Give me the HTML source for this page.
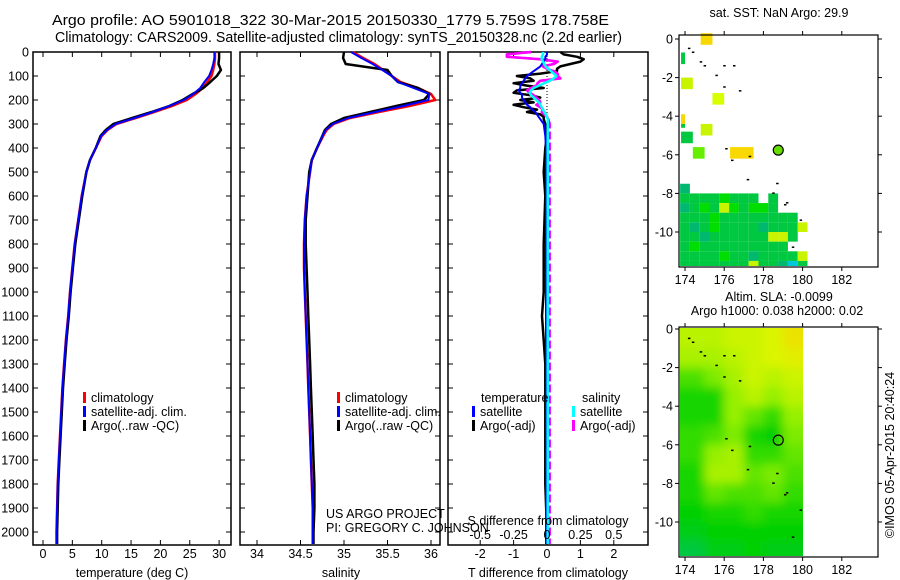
<!DOCTYPE html>
<html><head><meta charset="utf-8">
<style>
body{margin:0;background:#fff;}
svg{display:block;font-family:"Liberation Sans",sans-serif;}
text{fill:#000;}
</style></head>
<body>
<svg id="fig" width="900" height="580" viewBox="0 0 900 580" xmlns="http://www.w3.org/2000/svg">
<defs>
<filter id="smooth" x="-10%" y="-10%" width="120%" height="120%"><feGaussianBlur stdDeviation="5"/></filter>
<clipPath id="slaClip"><rect x="680" y="328" width="123" height="228"/></clipPath>
</defs>
<rect width="900" height="580" fill="#fff"/>
<text x="52" y="25" font-size="14.5" textLength="557" lengthAdjust="spacingAndGlyphs">Argo profile: AO 5901018_322 30-Mar-2015 20150330_1779 5.759S 178.758E</text>
<text x="55" y="42" font-size="14.5" textLength="567" lengthAdjust="spacingAndGlyphs">Climatology: CARS2009. Satellite-adjusted climatology: synTS_20150328.nc (2.2d earlier)</text>
<g id="plots"></g>
</svg>
<script>
// ---- profile data ----
const depths=[0,25,50,75,100,125,150,175,200,225,250,275,300,325,350,400,450,500,600,700,800,900,1000,1100,1200,1300,1400,1500,1600,1700,1800,1900,2000,2050];
const tClim=[29.3,29.3,29.2,29.0,28.7,28.0,27.2,26.0,24.5,22.0,19.0,15.8,12.5,11.0,10.0,9.0,8.0,7.4,6.6,6.0,5.4,5.0,4.6,4.3,3.9,3.6,3.3,3.1,2.9,2.7,2.5,2.4,2.3,2.3];
const tSat=[29.2,29.2,29.0,28.7,28.3,27.5,26.8,25.6,24.0,21.5,18.7,15.6,12.4,10.9,9.9,9.0,8.0,7.4,6.6,6.0,5.4,5.0,4.6,4.3,3.9,3.6,3.3,3.1,2.9,2.7,2.5,2.4,2.3,2.3];
const tArgo=[30.0,30.0,29.9,30.3,29.6,28.5,27.3,25.5,23.8,21.5,18.5,15.2,12.0,10.7,9.8,9.0,8.0,7.4,6.7,6.1,5.5,5.1,4.7,4.4,4.0,3.7,3.4,3.2,3.0,2.8,2.6,2.5,2.4,2.4];
const sClim=[35.10,35.22,35.35,35.45,35.55,35.65,35.85,36.00,36.05,35.75,35.40,35.07,34.88,34.80,34.76,34.69,34.63,34.61,34.57,34.55,34.54,34.54,34.55,34.56,34.57,34.58,34.59,34.60,34.61,34.62,34.63,34.64,34.64,34.64];
const sSat=[35.08,35.20,35.33,35.44,35.55,35.62,35.80,35.98,35.97,35.68,35.36,35.05,34.87,34.79,34.75,34.69,34.63,34.61,34.57,34.55,34.54,34.54,34.55,34.56,34.57,34.58,34.59,34.60,34.61,34.62,34.63,34.64,34.64,34.64];
const sArgo=[35.00,34.99,35.02,35.50,35.55,35.62,35.85,35.98,35.92,35.60,35.30,35.00,34.85,34.78,34.75,34.69,34.63,34.60,34.58,34.56,34.56,34.57,34.58,34.59,34.60,34.61,34.62,34.63,34.64,34.65,34.66,34.66,34.65,34.65];
// ---- difference data ----
const diffDepth=[0,10,20,30,40,50,60,70,80,90,100,110,120,130,140,150,160,170,180,190,200,210,220,230,240,250,260,270,280,300,350,400,500,600,800,1000,1100,1200,1300,1500,1800,2000,2050];
const dTargo=[0.4,0.5,0.9,1.1,1.0,0.7,0.4,0.3,0.3,-0.2,-0.9,-0.5,-0.4,-1.0,-0.6,-0.1,-0.9,-1.0,-0.5,-0.2,-0.8,-0.4,-1.0,-0.7,-0.3,-0.6,-0.2,-0.1,-0.1,-0.05,0,-0.05,-0.1,-0.05,-0.1,-0.1,-0.15,-0.1,-0.05,-0.05,-0.05,0,0];
const dTsat=[0,0,-0.05,-0.05,-0.1,-0.15,-0.2,-0.3,-0.4,-0.5,-0.6,-0.65,-0.7,-0.75,-0.8,-0.8,-0.85,-0.8,-0.75,-0.75,-0.7,-0.65,-0.6,-0.5,-0.45,-0.35,-0.3,-0.25,-0.2,-0.1,-0.05,-0.03,-0.03,-0.03,-0.03,-0.03,-0.03,-0.03,-0.03,-0.03,-0.03,-0.03,-0.03];
const dSargo=[-0.12,-0.3,-0.3,-0.05,0.08,0.05,-0.03,0.0,0.05,0.08,0.08,0.1,-0.05,-0.07,-0.08,-0.12,-0.15,-0.13,-0.1,-0.08,-0.06,-0.05,-0.08,-0.05,-0.03,-0.04,-0.02,0,0.01,0.02,0.02,0.02,0.02,0.02,0.02,0.02,0.02,0.02,0.02,0.02,0.02,0.02,0.02];
const dSsat=[-0.03,-0.03,-0.04,-0.04,-0.03,-0.02,-0.01,0.01,0.03,0.05,0.07,0.05,0.02,-0.02,-0.06,-0.1,-0.12,-0.13,-0.12,-0.1,-0.08,-0.06,-0.05,-0.04,-0.03,-0.02,-0.01,0,0.005,0.005,0.005,0.005,0.005,0.005,0.005,0.005,0.005,0.005,0.005,0.005,0.005,0.005,0.005];
const depthTicks=[0,100,200,300,400,500,600,700,800,900,1000,1100,1200,1300,1400,1500,1600,1700,1800,1900,2000];
const tTicks=[0,5,10,15,20,25,30];
const sTicks=[34,34.5,35,35.5,36];
const dTTicks=[-2,-1,0,1,2];
const dSTicks=[-0.5,-0.25,0,0.25,0.5];
// ---- SLA map grid (1 deg cells, rows from 0 to -12 lat, cols 174..180 lon), 0=low 1=high ----
const slaRows=[
[0.7,0.7,0.75,0.75,0.8,0.95],
[0.65,0.65,0.7,0.75,0.8,0.85],
[0.45,0.55,0.65,0.75,0.7,0.75],
[0.35,0.35,0.6,0.7,0.6,0.7],
[0.35,0.35,0.6,0.5,0.4,0.6],
[0.4,0.45,0.55,0.35,0.3,0.55],
[0.4,0.6,0.65,0.4,0.4,0.5],
[0.35,0.65,0.65,0.5,0.55,0.45],
[0.35,0.5,0.45,0.45,0.5,0.4],
[0.3,0.35,0.35,0.4,0.35,0.35],
[0.25,0.3,0.3,0.3,0.3,0.3],
[0.15,0.25,0.25,0.3,0.25,0.25]];
// ---- SST map ----
const sstCells=[[174.8,0.3,0.6,0.6,'o'],[173.8,-0.7,0.2,0.6,'g'],[173.8,-2.0,0.6,0.6,'y'],[175.4,-2.8,0.6,0.6,'l'],[174.8,-4.4,0.6,0.6,'y'],[173.8,-3.9,0.2,0.5,'o'],[173.8,-4.4,0.2,0.2,'g'],[173.8,-4.8,0.6,0.6,'g'],[174.4,-5.6,0.6,0.6,'Y'],[176.3,-5.6,1.2,0.6,'o']];
const sstRowLats=[-7.5,-8.0,-8.5,-9.0,-9.5,-10.0,-10.5,-11.0,-11.5];
const sstRows=["t............","ggggGggg.g...","tgGgyGgGGg...","gggGgggggggg.","gtgGggggtgggy","ggtggggggyyg.","gGggggggggg..","ggggGggtggggy","gggggggyggtcg"];
const coastPts=[[174.2,-0.5],[174.4,-0.7],[174.8,-1.2],[175.0,-1.4],[175.6,-1.9],[176.0,-1.4],[176.5,-1.4],[176.0,-2.5],[176.8,-2.7],[176.1,-5.7],[177.3,-6.1],[176.4,-6.3],[177.2,-7.3],[178.7,-7.5],[178.5,-8.0],[179.2,-8.5],[179.1,-8.6],[179.9,-9.4],[179.5,-10.8]];
const argoLon=178.758, argoLat=-5.759;

const NS="http://www.w3.org/2000/svg";
const root=document.getElementById('plots');
function el(tag,attrs,parent){const e=document.createElementNS(NS,tag);for(const k in attrs)e.setAttribute(k,attrs[k]);(parent||root).appendChild(e);return e;}
function txt(x,y,s,size,anchor,parent){const t=el('text',{x:x,y:y,'font-size':size,'text-anchor':anchor||'start'},parent);t.textContent=s;return t;}

const pTop=52,pBot=545;
const yD=d=>52+d*0.24;
function linePath(xs,ds,xf){return xs.map((v,i)=>(i?'L':'M')+xf(v).toFixed(1)+' '+yD(ds[i]).toFixed(1)).join(' ');}

function panel(name,x0,x1){
  const g=el('g',{});
  
  
  const r=el('rect',{x:x0,y:pTop,width:x1-x0,height:pBot-pTop,fill:'none',stroke:'#000','stroke-width':1.5},g);
  
  
  return g;
}
function xTicks(g,ticks,xf,labY){
  ticks.forEach(t=>{const x=xf(t);
    el('line',{x1:x,x2:x,y1:pTop,y2:pTop+5,stroke:'#000'},g);
    el('line',{x1:x,x2:x,y1:pBot,y2:pBot-5,stroke:'#000'},g);
    if(labY){const l=txt(x,labY,String(t),12.5,'middle',g);
      
      }
  });
}
function yTicks(g,x0,x1,labels){
  depthTicks.forEach(d=>{const y=yD(d);
    el('line',{x1:x0,x2:x0+5,y1:y,y2:y,stroke:'#000'},g);
    el('line',{x1:x1,x2:x1-5,y1:y,y2:y,stroke:'#000'},g);
    if(labels){const l=txt(x0-4,y+4.5,String(d),12.5,'end',g);
      
      }
  });
}
function series(g,name,xs,ds,xf,color,w,dash){
  const p=el('path',{d:linePath(xs,ds,xf),fill:'none',stroke:color,'stroke-width':w||2,'stroke-linejoin':'round'},g);
  if(dash)p.setAttribute('stroke-dasharray',dash);
  
  
}
function legend(g,x,y,items){
  items.forEach((it,i)=>{const yy=y+i*14;
    el('rect',{x:x,y:yy-10,width:3,height:11,fill:it[1]},g);
    const t=txt(x+8,yy,it[0],12.5,'start',g);
    
    
  });
}

// temperature panel
const xT=v=>43+v*5.87;
const gT=panel('temperature-panel',33,231);
xTicks(gT,tTicks,xT,558);
yTicks(gT,33,231,true);
series(gT,'temp-climatology-line',tClim,depths,xT,'#f00',2.5);
series(gT,'temp-argo-line',tArgo,depths,xT,'#000',2.5);
series(gT,'temp-satellite-line',tSat,depths,xT,'#00f',2);
legend(gT,83,402,[['climatology','#f00'],['satellite-adj. clim.','#00f'],['Argo(..raw -QC)','#000']]);
const tl=txt(132,577,'temperature (deg C)',12.5,'middle',gT);



// salinity panel
const xS=v=>257+(v-34)*87;
const gS=panel('salinity-panel',240,440);
xTicks(gS,sTicks,xS,558);
yTicks(gS,240,440,false);
series(gS,'sal-climatology-line',sClim,depths,xS,'#f00',2.5);
series(gS,'sal-argo-line',sArgo,depths,xS,'#000',2.5);
series(gS,'sal-satellite-line',sSat,depths,xS,'#00f',2);
legend(gS,337,402,[['climatology','#f00'],['satellite-adj. clim.','#00f'],['Argo(..raw -QC)','#000']]);
const sl=txt(341,577,'salinity',12.5,'middle',gS);


const us=txt(326,518,'US ARGO PROJECT',12.5,'start',gS);


const pi=txt(326,532,'PI: GREGORY C. JOHNSON',12.5,'start',gS);



// difference panel
const xDT=v=>547+v*33.4;
const xDS=v=>547+v*133.6;
const gD=panel('difference-panel',448,648);
xTicks(gD,dTTicks,xDT,558);
yTicks(gD,448,648,false);
el('line',{x1:547,x2:547,y1:pTop,y2:pBot,stroke:'#000','stroke-dasharray':'1,2'},gD);
series(gD,'tdiff-argo-line',dTargo,diffDepth,xDT,'#000',2.5);
series(gD,'sdiff-argo-line',dSargo,diffDepth,xDS,'#f0f',2.5,'8,3');
series(gD,'sdiff-argo-line-upper',dSargo.slice(0,30),diffDepth.slice(0,30),xDS,'#f0f',2.5);
series(gD,'tdiff-satellite-line',dTsat,diffDepth,xDT,'#00f',2);
series(gD,'sdiff-satellite-line',dSsat,diffDepth,xDS,'#0ff',2.5);
dSTicks.forEach(t=>{const l=txt(xDS(t),539,String(t),12.5,'middle',gD);
  
  });
const sdt=txt(548,525,'S difference from climatology',12.5,'middle',gD);


const tdt=txt(548,577,'T difference from climatology',12.5,'middle',gD);


const lt=txt(481,402,'temperature',12.5,'start',gD);


const ls=txt(582,402,'salinity',12.5,'start',gD);


legend(gD,472,416,[['satellite','#00f'],['Argo(-adj)','#000']]);
legend(gD,572,416,[['satellite','#0ff'],['Argo(-adj)','#f0f']]);

// ---- maps ----
function mapAxes(name,y0,y1,lat0y){
  const g=el('g',{});
  
  
  const lonX=lon=>685+(lon-174)*19.6;
  const latY=lat=>lat0y-lat*19.3;
  return {g,lonX,latY,y0,y1};
}
function mapFrame(m){
  const g=m.g;
  el('rect',{x:679,y:m.y0,width:199,height:m.y1-m.y0,fill:'none',stroke:'#000','stroke-width':1.2},g);
  [174,176,178,180,182].forEach(lon=>{const x=m.lonX(lon);
    el('line',{x1:x,x2:x,y1:m.y1,y2:m.y1+4,stroke:'#000'},g);
    el('line',{x1:x,x2:x,y1:m.y0,y2:m.y0-4,stroke:'#000'},g);
    const l=txt(x,m.y1+17,String(lon),12.5,'middle',g);
    
    });
  [0,-2,-4,-6,-8,-10].forEach(lat=>{const y=m.latY(lat);
    el('line',{x1:675,x2:679,y1:y,y2:y,stroke:'#000'},g);
    el('line',{x1:878,x2:882,y1:y,y2:y,stroke:'#000'},g);
    const l=txt(673,y+4.5,String(lat),12.5,'end',g);
    
    });
  coastPts.forEach(p=>{el('rect',{x:m.lonX(p[0])-1,y:m.latY(p[1])-1,width:2.5,height:1.5,fill:'#000'},g);});
}
function slaColor(v){
  const stops=[[0,[0,192,128]],[0.3,[0,208,0]],[0.6,[150,240,0]],[0.8,[220,245,0]],[1,[240,220,0]]];
  for(let i=1;i<stops.length;i++){if(v<=stops[i][0]){const a=stops[i-1],b=stops[i],f=(v-a[0])/(b[0]-a[0]);
    return 'rgb('+a[1].map((c,k)=>Math.round(c+(b[1][k]-c)*f)).join(',')+')';}}
  return 'rgb(240,220,0)';
}
// top SST map
const m1=mapAxes('sst-map',35,267,39);
const cc={o:'#f8d800',g:'#00c840',G:'#00dd00',t:'#00b870',y:'#c8f400',l:'#d8ff00',Y:'#66ee00',c:'#00c8d8'};
const c1=el('g',{},m1.g);
sstCells.forEach(c=>{const r=el('rect',{x:m1.lonX(c[0]),y:m1.latY(c[1]),width:c[2]*19.6,height:c[3]*19.3,fill:cc[c[4]]},c1);
  
  });
sstRows.forEach((row,ri)=>{const lat=sstRowLats[ri];
  for(let ci=0;ci<row.length;ci++){const ch=row[ci];if(ch==='.')continue;
    const lon=173.75+ci*0.5;const x=Math.max(680,m1.lonX(lon));const w=m1.lonX(lon+0.5)-x;
    const y=m1.latY(lat);const h=Math.min(0.5*19.3,266-y);
    const r=el('rect',{x:x,y:y,width:w,height:h,fill:cc[ch]},c1);
    
    }});
mapFrame(m1);
const a1=el('circle',{cx:m1.lonX(argoLon),cy:m1.latY(argoLat),r:5,fill:'#66dd00',stroke:'#000','stroke-width':1.2},m1.g);


const st=txt(779,17,'sat. SST: NaN Argo: 29.9',12.5,'middle',m1.g);



// bottom SLA map
const m2=mapAxes('sla-map',327,557,329);
const clipG=el('g',{'clip-path':'url(#slaClip)'},m2.g);
const c2=el('g',{filter:'url(#smooth)'},clipG);
slaRows.forEach((row,ri)=>{row.forEach((v,ci)=>{
  let x=m2.lonX(174+ci), w=19.9, y=m2.latY(-ri), h=19.6;
  if(ci===0){x-=15;w+=15;}
  if(ci===row.length-1){w+=15;}
  if(ri===0){y-=15;h+=15;}
  if(ri===slaRows.length-1){h+=20;}
  const r=el('rect',{x:x,y:y,width:w,height:h,fill:slaColor(v)},c2);
  
  });});
mapFrame(m2);
const a2=el('circle',{cx:m2.lonX(argoLon),cy:m2.latY(argoLat),r:5,fill:'none',stroke:'#000','stroke-width':1.2},m2.g);


const t2a=txt(779,301,'Altim. SLA: -0.0099',12.5,'middle',m2.g);


const t2b=txt(777,315,'Argo h1000: 0.038 h2000: 0.02',12.5,'middle',m2.g);


const im=txt(0,0,'©IMOS 05-Apr-2015 20:40:24',12.5,'middle',m2.g);
im.setAttribute('transform','translate(894,455) rotate(-90)');


</script>
</body></html>
